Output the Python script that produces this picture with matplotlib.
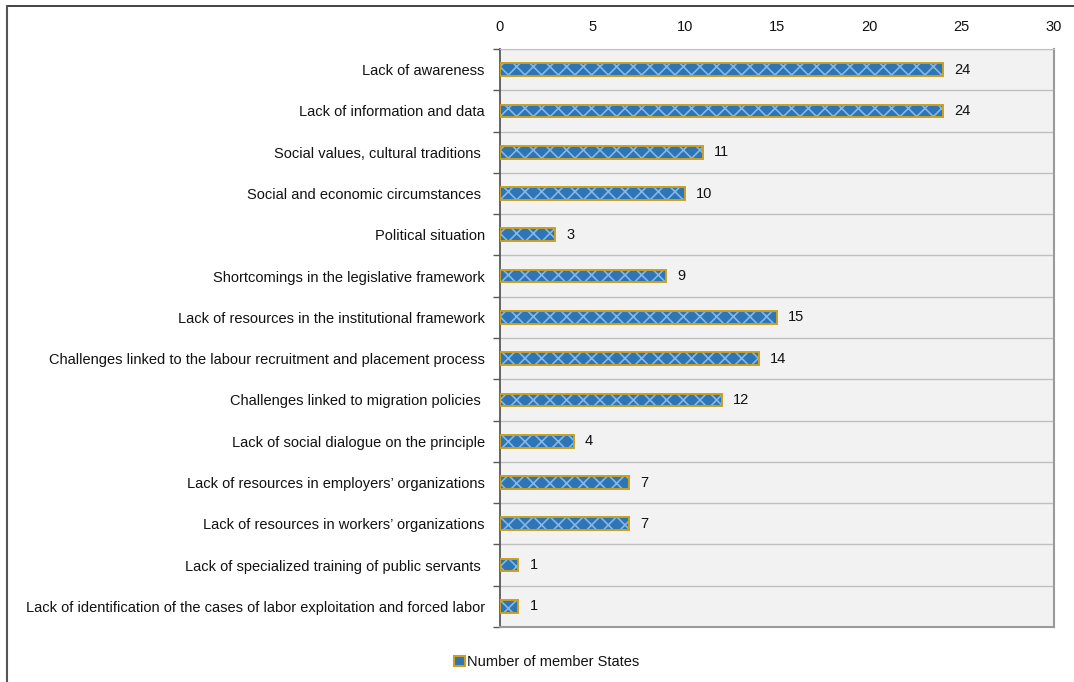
import matplotlib
matplotlib.use("Agg")
import matplotlib.pyplot as plt
from matplotlib.lines import Line2D
from matplotlib.patches import Patch

plt.rcParams['font.family'] = ['Liberation Sans', 'DejaVu Sans']
plt.rcParams['hatch.linewidth'] = 1.2

categories = [
    "Lack of awareness",
    "Lack of information and data",
    "Social values, cultural traditions ",
    "Social and economic circumstances ",
    "Political situation",
    "Shortcomings in the legislative framework",
    "Lack of resources in the institutional framework",
    "Challenges linked to the labour recruitment and placement process",
    "Challenges linked to migration policies ",
    "Lack of social dialogue on the principle",
    "Lack of resources in employers\u2019 organizations",
    "Lack of resources in workers\u2019 organizations",
    "Lack of specialized training of public servants ",
    "Lack of identification of the cases of labor exploitation and forced labor",
]
values = [24, 24, 11, 10, 3, 9, 15, 14, 12, 4, 7, 7, 1, 1]
x_ticks = [0, 5, 10, 15, 20, 25, 30]
series_name = "Number of member States"

BLUE = "#2e75b6"
HATCH = "#86b6e4"
GOLD = "#c9a020"
TXT = "#111111"

fig = plt.figure(figsize=(10.74, 6.82), dpi=100)
ax = fig.add_axes([500 / 1074, 1 - 627 / 682, 554 / 1074, 578 / 682])
ax.set_facecolor("#f2f2f2")

n = len(categories)
ypos = list(range(n))
h = 0.31

# filled, hatched body
ax.barh(ypos, values, height=h, color=BLUE, edgecolor=HATCH, hatch="xx",
        linewidth=0, zorder=3)
# golden outline
ax.barh(ypos, values, height=h, facecolor="none", edgecolor=GOLD,
        linewidth=1.4, zorder=4)

for y, v in zip(ypos, values):
    ax.annotate(str(v), xy=(v, y), xytext=(8, 0), textcoords="offset points",
                va="center", ha="left", fontsize=10.5, color=TXT)

ax.set_xlim(0, 30)
ax.set_ylim(n - 0.5, -0.5)
ax.set_xticks(x_ticks)
ax.xaxis.tick_top()
ax.tick_params(axis="x", length=0, pad=11, labelsize=10.5, colors=TXT)

ax.set_yticks(ypos)
ax.set_yticklabels(categories)
ax.set_yticks([i + 0.5 for i in range(-1, n)], minor=True)
ax.tick_params(axis="y", which="major", length=0, pad=11, labelsize=10.5,
               colors=TXT)
ax.tick_params(axis="y", which="minor", length=5, width=1, color="#595959")
ax.grid(axis="y", which="minor", color="#bfbfbf", linewidth=1, zorder=1)
ax.grid(axis="x", visible=False)

ax.spines["left"].set_color("#595959")
ax.spines["left"].set_linewidth(1.3)
ax.spines["top"].set_color("#bfbfbf")
for s in ("right", "bottom"):
    ax.spines[s].set_color("#9a9a9a")
    ax.spines[s].set_linewidth(1.5)

handle = Patch(facecolor=BLUE, edgecolor=GOLD, linewidth=1.5)
fig.legend([handle], [series_name], loc="center",
           bbox_to_anchor=(547 / 1074, 1 - 662 / 682), frameon=False,
           fontsize=10.5, handlelength=0.7, handleheight=0.7,
           handletextpad=0.2, borderpad=0, labelcolor=TXT)

# outer frame lines (top and left)
fig.add_artist(Line2D([7 / 1074, 1], [1 - 6 / 682, 1 - 6 / 682],
                      color="#222222", linewidth=1.2, transform=fig.transFigure))
fig.add_artist(Line2D([7 / 1074, 7 / 1074], [0, 1 - 6 / 682],
                      color="#555555", linewidth=1.5, transform=fig.transFigure))

fig.savefig("out.png", dpi=100)
